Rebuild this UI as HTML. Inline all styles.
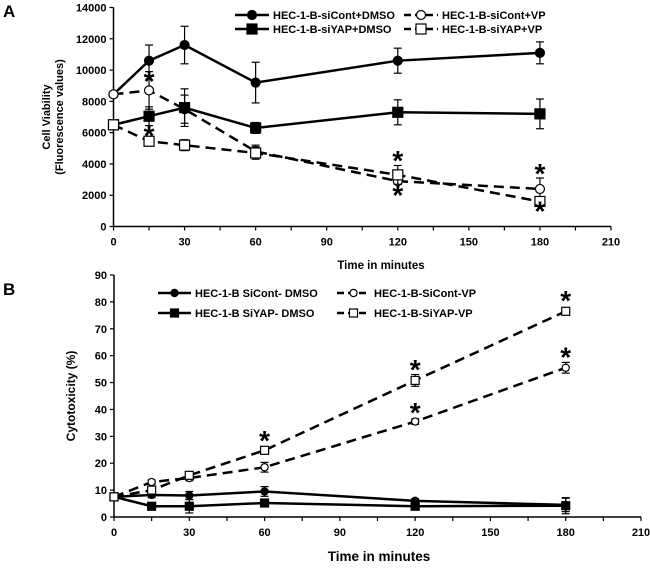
<!DOCTYPE html>
<html><head><meta charset="utf-8"><style>
body{margin:0;background:#fff}
svg{display:block;font-family:"Liberation Sans",sans-serif;font-weight:bold}
</style></head><body>
<svg id="chart" width="650" height="569" viewBox="0 0 650 569" xmlns="http://www.w3.org/2000/svg"></svg>
<script>
// Panel A data
const timesA = [0, 15, 30, 60, 120, 180];
const aContDMSO = [8450, 10600, 11600, 9200, 10600, 11100];
const aContDMSOErr = [0, 1000, 1200, 1300, 800, 700];
const aYapDMSO = [6500, 7050, 7600, 6300, 7300, 7200];
const aYapDMSOErr = [0, 600, 1200, 350, 800, 950];
const aContVP = [8450, 8700, 7500, 4800, 2900, 2400];
const aContVPErr = [0, 1200, 900, 400, 200, 700];
const aYapVP = [6500, 5450, 5200, 4700, 3300, 1600];
const aYapVPErr = [0, 200, 350, 400, 600, 300];
const aStarX = [15, 15, 120, 120, 180, 180];
const aStarY = [9400, 5900, 4300, 2100, 3500, 1100];
const aYTicks = [0, 2000, 4000, 6000, 8000, 10000, 12000, 14000];
const xTicks = [0, 30, 60, 90, 120, 150, 180, 210];
// Panel B data
const bContDMSO = [7.5, 8.2, 8, 9.5, 6, 4.5];
const bContDMSOErr = [0, 1, 1.5, 1.8, 0.8, 2.5];
const bYapDMSO = [7.5, 4, 4, 5.2, 4, 4.2];
const bYapDMSOErr = [0, 0.6, 2.5, 1, 0.6, 3];
const bContVP = [7.5, 13, 14.5, 18.5, 35.5, 55.5];
const bContVPErr = [0, 0.8, 1, 1.8, 1, 2];
const bYapVP = [7.5, 10, 15.5, 24.8, 50.8, 76.5];
const bYapVPErr = [0, 1, 0.8, 1, 2.2, 1];
const bStarX = [60, 120, 120, 180, 180];
const bStarY = [29, 55.5, 39.5, 81, 60];
const bYTicks = [0, 10, 20, 30, 40, 50, 60, 70, 80, 90];

const svg = document.getElementById('chart');
const NS = 'http://www.w3.org/2000/svg';
function mk(tag, attrs, parent) {
  const e = document.createElementNS(NS, tag);
  for (const k in attrs) e.setAttribute(k, attrs[k]);
  (parent || svg).appendChild(e);
  return e;
}

function panel(cfg) {
  const g = mk('g', {});
  
  
  const X = v => cfg.x0 + (v / 210) * (cfg.x1 - cfg.x0);
  const Y = v => cfg.y0 - (v / cfg.ymax) * (cfg.y0 - cfg.y1);
  const ax = mk('line', {x1: X(0), y1: cfg.y0, x2: cfg.x1, y2: cfg.y0, stroke: '#000', 'stroke-width': 1.5}, g);
  
  
  const ay = mk('line', {x1: X(0), y1: cfg.y0, x2: X(0), y2: cfg.y1, stroke: '#000', 'stroke-width': 1.5}, g);
  
  
  cfg.yt.forEach(t => {
    mk('line', {x1: X(0) - 4, x2: X(0), y1: Y(t), y2: Y(t), stroke: '#000', 'stroke-width': 1.2}, g);
    const tx = mk('text', {x: X(0) - 7, y: Y(t) + 4, 'text-anchor': 'end', 'font-size': 11}, g);
    tx.textContent = t;
    
    
  });
  for (let v = 0; v <= 210; v += 15) {
    mk('line', {x1: X(v), x2: X(v), y1: cfg.y0, y2: cfg.y0 + 4, stroke: '#000', 'stroke-width': 1.2}, g);
  }
  xTicks.forEach(t => {
    const tx = mk('text', {x: X(t), y: cfg.y0 + 19, 'text-anchor': 'middle', 'font-size': 11}, g);
    tx.textContent = t;
    
    
  });
  const xt = mk('text', {x: cfg.xTitleX, y: cfg.xTitleY, 'text-anchor': 'middle', 'font-size': cfg.xTitleSize}, g);
  xt.textContent = 'Time in minutes';
  
  
  cfg.ytitle.forEach((s, i) => {
    const yx = cfg.yTitleX + i * 13;
    const t = mk('text', {x: yx, y: cfg.yTitleY, 'text-anchor': 'middle', 'font-size': cfg.yTitleSize, transform: `rotate(-90 ${yx} ${cfg.yTitleY})`}, g);
    t.textContent = s;
    
    
  });
  const lt = mk('text', {x: 3, y: cfg.letterY, 'font-size': 17}, g);
  lt.textContent = cfg.letter;
  
  

  cfg.series.forEach(s => {
    const sg = mk('g', {}, g);
    
    
    s.vals.forEach((v, i) => {
      const e = s.err[i];
      if (!e) return;
      const x = X(timesA[i]);
      mk('line', {x1: x, x2: x, y1: Y(v - e), y2: Y(v + e), stroke: '#000', 'stroke-width': 1.2}, sg);
      mk('line', {x1: x - 4, x2: x + 4, y1: Y(v + e), y2: Y(v + e), stroke: '#000', 'stroke-width': 1.2}, sg);
      mk('line', {x1: x - 4, x2: x + 4, y1: Y(v - e), y2: Y(v - e), stroke: '#000', 'stroke-width': 1.2}, sg);
    });
    const pts = s.vals.map((v, i) => X(timesA[i]) + ',' + Y(v)).join(' ');
    const pl = mk('polyline', {points: pts, fill: 'none', stroke: '#000', 'stroke-width': 2.5, 'stroke-dasharray': s.dash ? '10,6' : 'none'}, sg);
    
    
    s.vals.forEach((v, i) => {
      const m = marker(s.shape, s.fill, X(timesA[i]), Y(v), cfg.msize, sg);
      
      
    });
  });
  cfg.stars.x.forEach((sx, i) => {
    const st = mk('text', {x: X(sx), y: Y(cfg.stars.y[i]) + 11, 'text-anchor': 'middle', 'font-size': 28, 'font-weight': 'bold'}, g);
    st.textContent = '*';
    
    
  });
  cfg.series.forEach((s, i) => {
    const lg = mk('g', {}, g);
    
    
    const col = i % 2, row = Math.floor(i / 2);
    const lx = cfg.leg[col], ly = cfg.legY[row];
    mk('line', {x1: lx, x2: lx + cfg.legLen, y1: ly, y2: ly, stroke: '#000', 'stroke-width': 2.5, 'stroke-dasharray': s.dash ? '7,4' : 'none'}, lg);
    marker(s.shape, s.fill, lx + cfg.legLen / 2, ly, cfg.msize, lg);
    const t = mk('text', {x: lx + cfg.legLen + 4, y: ly + 4, 'font-size': 11}, lg);
    t.textContent = s.label;
  });
}
function marker(shape, fill, x, y, r, p) {
  if (shape === 'c') return mk('circle', {cx: x, cy: y, r: r * 0.9, fill: fill ? '#000' : '#fff', stroke: '#000', 'stroke-width': 1.2}, p);
  return mk('rect', {x: x - r, y: y - r, width: 2 * r, height: 2 * r, fill: fill ? '#000' : '#fff', stroke: '#000', 'stroke-width': 1.2}, p);
}

panel({name: 'panel-a-chart', letter: 'A', letterY: 17, x0: 113.5, x1: 611, y0: 226.5, y1: 7.5, ymax: 14000, yt: aYTicks,
  xTitleX: 381, xTitleY: 269, xTitleSize: 11.5, ytitle: ['Cell Viability', '(Fluorescence values)'], yTitleX: 50, yTitleY: 117, yTitleSize: 11,
  msize: 5, leg: [235, 404], legY: [15, 29], legLen: 34,
  stars: {x: aStarX, y: aStarY},
  series: [
    {name: 'series-sicont-dmso', label: 'HEC-1-B-siCont+DMSO', vals: aContDMSO, err: aContDMSOErr, shape: 'c', fill: true, dash: false},
    {name: 'series-sicont-vp', label: 'HEC-1-B-siCont+VP', vals: aContVP, err: aContVPErr, shape: 'c', fill: false, dash: true},
    {name: 'series-siyap-dmso', label: 'HEC-1-B-siYAP+DMSO', vals: aYapDMSO, err: aYapDMSOErr, shape: 's', fill: true, dash: false},
    {name: 'series-siyap-vp', label: 'HEC-1-B-siYAP+VP', vals: aYapVP, err: aYapVPErr, shape: 's', fill: false, dash: true}
  ]});

panel({name: 'panel-b-chart', letter: 'B', letterY: 295, x0: 114, x1: 641, y0: 517, y1: 275, ymax: 90, yt: bYTicks,
  xTitleX: 379, xTitleY: 561, xTitleSize: 13.5, ytitle: ['Cytotoxicity (%)'], yTitleX: 75, yTitleY: 396, yTitleSize: 12,
  msize: 4, leg: [158, 337], legY: [293, 313], legLen: 33,
  stars: {x: bStarX, y: bStarY},
  series: [
    {name: 'series-sicont-dmso-b', label: 'HEC-1-B SiCont- DMSO', vals: bContDMSO, err: bContDMSOErr, shape: 'c', fill: true, dash: false},
    {name: 'series-sicont-vp-b', label: 'HEC-1-B-SiCont-VP', vals: bContVP, err: bContVPErr, shape: 'c', fill: false, dash: true},
    {name: 'series-siyap-dmso-b', label: 'HEC-1-B SiYAP- DMSO', vals: bYapDMSO, err: bYapDMSOErr, shape: 's', fill: true, dash: false},
    {name: 'series-siyap-vp-b', label: 'HEC-1-B-SiYAP-VP', vals: bYapVP, err: bYapVPErr, shape: 's', fill: false, dash: true}
  ]});
</script>
</body></html>
